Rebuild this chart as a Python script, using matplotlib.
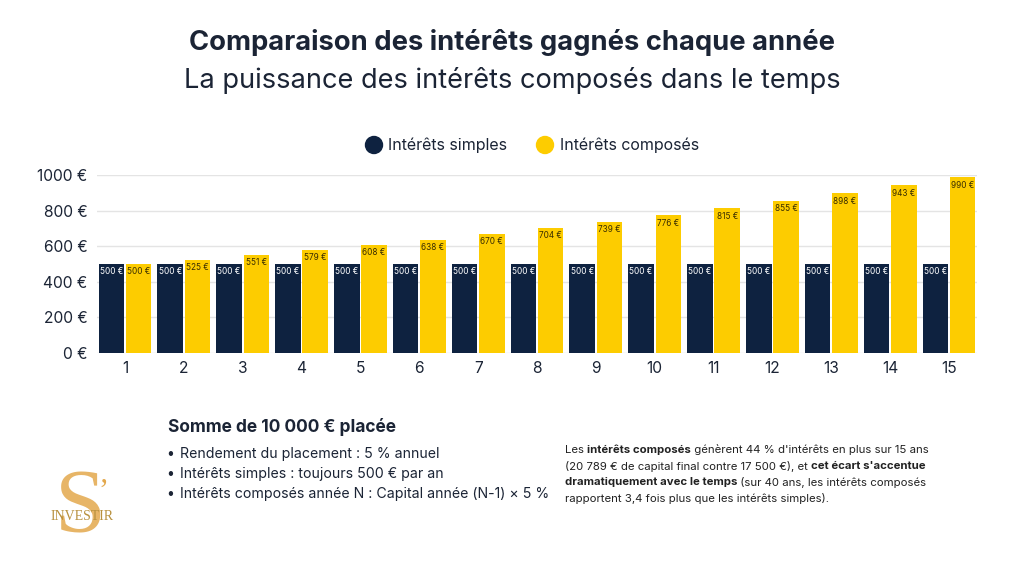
import matplotlib.pyplot as plt
from matplotlib.patches import Ellipse
import numpy as np

# Intérêts gagnés chaque année (placement de 10 000 € à 5 %)
annees = [1, 2, 3, 4, 5, 6, 7, 8, 9, 10, 11, 12, 13, 14, 15]
interets_simples = [500, 500, 500, 500, 500, 500, 500, 500, 500, 500, 500, 500, 500, 500, 500]
interets_composes = [500, 525, 551, 579, 608, 638, 670, 704, 739, 776, 815, 855, 898, 943, 990]
series_labels = ['Intérêts simples', 'Intérêts composés']
y_ticks = [0, 200, 400, 600, 800, 1000]

navy = '#0e2240'
yellow = '#fdcc00'
dark_text = '#1b2435'
gold = '#e3a84c'

plt.rcParams['font.family'] = ['Inter', 'DejaVu Sans']

fig = plt.figure(figsize=(10.24, 5.76), dpi=100)
fig.patch.set_facecolor('white')

# Titles
fig.text(0.5, 0.926, 'Comparaison des intérêts gagnés chaque année', ha='center', va='center',
         fontsize=19.7, fontweight='bold', color=dark_text)
fig.text(0.5, 0.86, 'La puissance des intérêts composés dans le temps', ha='center', va='center',
         fontsize=19.6, color=dark_text)

# Chart
ax = fig.add_axes([97 / 1024, 223.3 / 576, 880 / 1024, 177.4 / 576])
x = np.array(annees)
w = 0.435
b1 = ax.bar(x - w / 2 - 0.015, interets_simples, width=w, color=navy, zorder=2)
b2 = ax.bar(x + w / 2 + 0.015, interets_composes, width=w, color=yellow, zorder=2)

for bars, vals, col in [(b1, interets_simples, 'white'), (b2, interets_composes, '#3a2e00')]:
    for rect, v in zip(bars, vals):
        ax.annotate(f'{v} €', (rect.get_x() + rect.get_width() / 2, v), xytext=(0, -2.5),
                    textcoords='offset points', ha='center', va='top', fontsize=5.9, color=col, zorder=3)

ax.set_xlim(0.524, 15.476)
ax.set_ylim(0, 1000)
ax.set_yticks(y_ticks)
ax.set_yticklabels([f'{t} €' for t in y_ticks])
ax.set_xticks(annees)
ax.tick_params(axis='both', length=0, labelsize=11.2, colors=dark_text)
ax.tick_params(axis='y', pad=7)
ax.tick_params(axis='x', pad=6)
ax.grid(axis='y', color='#e4e4e4', linewidth=1, zorder=0)
for s in ax.spines.values():
    s.set_visible(False)

# Legend drawn by hand (round markers + labels)
for lx, tx, col, lab in [(374, 388, navy, series_labels[0]), (545, 560, yellow, series_labels[1])]:
    fig.patches.append(Ellipse((lx / 1024, 1 - 145 / 576), 17 / 1024, 17 / 576,
                               transform=fig.transFigure, color=col, figure=fig))
    fig.text(tx / 1024, 1 - 145 / 576, lab, ha='left', va='center', fontsize=11.5, color=dark_text)

# Bottom-left box
fig.text(168 / 1024, 1 - 427 / 576, 'Somme de 10 000 € placée', ha='left', va='center',
         fontsize=12.5, fontweight='bold', color=dark_text)
bullets = ['Rendement du placement : 5 % annuel',
           'Intérêts simples : toujours 500 € par an',
           'Intérêts composés année N : Capital année (N-1) × 5 %']
for i, t in enumerate(bullets):
    yy = 1 - (454 + 20 * i) / 576
    fig.text(166 / 1024, yy, '•', ha='left', va='center', fontsize=10, color=dark_text)
    fig.text(180 / 1024, yy, t, ha='left', va='center', fontsize=10.2, color=dark_text)

# Right paragraph with bold segments
para = [
    [('Les ', 'normal'), ('intérêts composés', 'bold'), (' génèrent 44 % d\'intérêts en plus sur 15 ans', 'normal')],
    [('(20 789 € de capital final contre 17 500 €), et ', 'normal'), ('cet écart s\'accentue', 'bold')],
    [('dramatiquement avec le temps', 'bold'), (' (sur 40 ans, les intérêts composés', 'normal')],
    [('rapportent 3,4 fois plus que les intérêts simples).', 'normal')],
]
fig.canvas.draw()
renderer = fig.canvas.get_renderer()
for i, line in enumerate(para):
    xpos = 565 / 1024
    yy = 1 - (450 + 16 * i) / 576
    for txt, wt in line:
        t = fig.text(xpos, yy, txt, ha='left', va='center', fontsize=8.2, fontweight=wt, color='#222222')
        bb = t.get_window_extent(renderer=renderer)
        xpos += bb.width / 1024

# Logo
fig.text(80 / 1024, 1 - 510 / 576, 'S', ha='center', va='center', fontsize=66,
         family='Liberation Serif', color=gold, alpha=0.85, zorder=1)
fig.text(103 / 1024, 1 - 492 / 576, '’', ha='center', va='center', fontsize=22,
         family='Liberation Serif', color=gold, zorder=1)
fig.text(82 / 1024, 1 - 516 / 576, 'INVESTIR', ha='center', va='center', fontsize=10,
         family='Liberation Serif', color='#b8913e', zorder=5)

fig.savefig('out.png', dpi=100, facecolor='white')
